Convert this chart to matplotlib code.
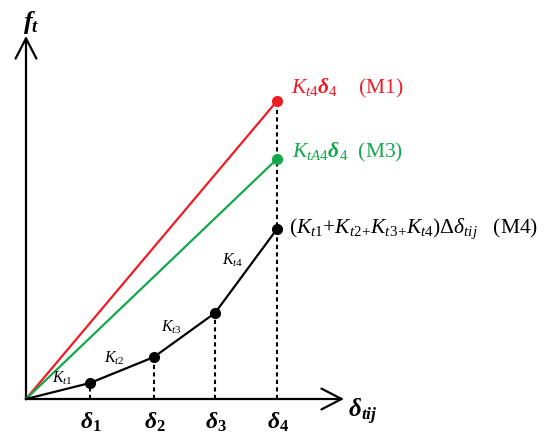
import matplotlib
matplotlib.use("Agg")
import matplotlib.pyplot as plt

plt.rcParams['mathtext.fontset'] = 'custom'
plt.rcParams['mathtext.rm'] = 'Liberation Serif'
plt.rcParams['mathtext.it'] = 'Liberation Serif:italic'
plt.rcParams['mathtext.bf'] = 'Liberation Serif:bold:italic'
plt.rcParams['mathtext.sf'] = 'Liberation Serif:bold'
plt.rcParams['font.family'] = ['Liberation Serif', 'DejaVu Serif']

# data (arbitrary units)
deltas = [0, 64, 128, 189, 251]
ft_m4 = [0, 16, 42, 86, 170]
ft_m1 = [0, 298]
ft_m3 = [0, 240]
delta_labels = [r'$\mathbf{\delta}_\mathsf{1}$', r'$\mathbf{\delta}_\mathsf{2}$',
                r'$\mathbf{\delta}_\mathsf{3}$', r'$\mathbf{\delta}_\mathsf{4}$']
seg_labels = [r'$K_{t1}$', r'$K_{t2}$', r'$K_{t3}$', r'$K_{t4}$']

RED = '#ee1c25'
GREEN = '#13a84b'

fig = plt.figure(figsize=(5.5, 4.39), dpi=100)
ax = fig.add_axes([0, 0, 1, 1])
ax.set_xlim(-26, 524)
ax.set_ylim(-39, 400)
ax.axis('off')

# axes arrows
astyle = '->,head_length=1.45,head_width=0.75'
ax.annotate('', xy=(318, 0), xytext=(0, 0),
            arrowprops=dict(arrowstyle=astyle, lw=1.6, color='black', shrinkA=0, shrinkB=0))
ax.annotate('', xy=(0, 363), xytext=(0, 0),
            arrowprops=dict(arrowstyle=astyle, lw=1.6, color='black', shrinkA=0, shrinkB=0))

# M1 & M3 lines
ax.plot([0, deltas[-1]], ft_m1, color=RED, lw=1.6, zorder=3)
ax.plot([deltas[-1]], [ft_m1[1]], 'o', color=RED, ms=7, zorder=4)
ax.plot([0, deltas[-1]], ft_m3, color=GREEN, lw=1.6, zorder=3)
ax.plot([deltas[-1]], [ft_m3[1]], 'o', color=GREEN, ms=7, zorder=4)

# M4 curve
ax.plot(deltas, ft_m4, color='black', lw=1.6, zorder=3)
ax.plot(deltas[1:], ft_m4[1:], 'o', color='black', ms=7, zorder=4)

# dotted drop lines
for i, d in enumerate(deltas[1:]):
    top = ft_m1[1] if i == 3 else ft_m4[i + 1]
    ax.plot([d, d], [0, top], color='black', lw=1.5, ls=(0, (2, 1.6)), zorder=2)
    ax.text(d + 1, -22, delta_labels[i], fontsize=17, ha='center', va='center')

# segment labels
seg_pos = [(36, 22), (88, 42), (146, 73), (207, 140)]
for (x, y), s in zip(seg_pos, seg_labels):
    ax.text(x, y, s, fontsize=11.5, ha='center', va='center')

# annotations
ax.text(265, 312, r'$K_{t4}\mathbf{\delta}_4$' + '    (M1)', color=RED, fontsize=15.5,
        ha='left', va='center')
ax.text(266, 248, r'$K_{tA4}\mathbf{\delta}_4$' + '  (M3)', color=GREEN, fontsize=15.5,
        ha='left', va='center')
ax.text(263, 171, r'$(K_{t1}$+$K_{t2}$' + r'$_{+}K_{t3}$' + r'$_{+}K_{t4})\Delta\delta_{tij}$' + '   (M4)',
        color='black', fontsize=15.5, ha='left', va='center')

# axis labels
ax.text(5, 378, r'$\mathbf{f}_\mathbf{t}$', fontsize=19, ha='center', va='center')
ax.text(337, -12, r'$\mathbf{\delta}_\mathbf{tij}$', fontsize=18, ha='center', va='center')

fig.savefig('out.png', dpi=100)
